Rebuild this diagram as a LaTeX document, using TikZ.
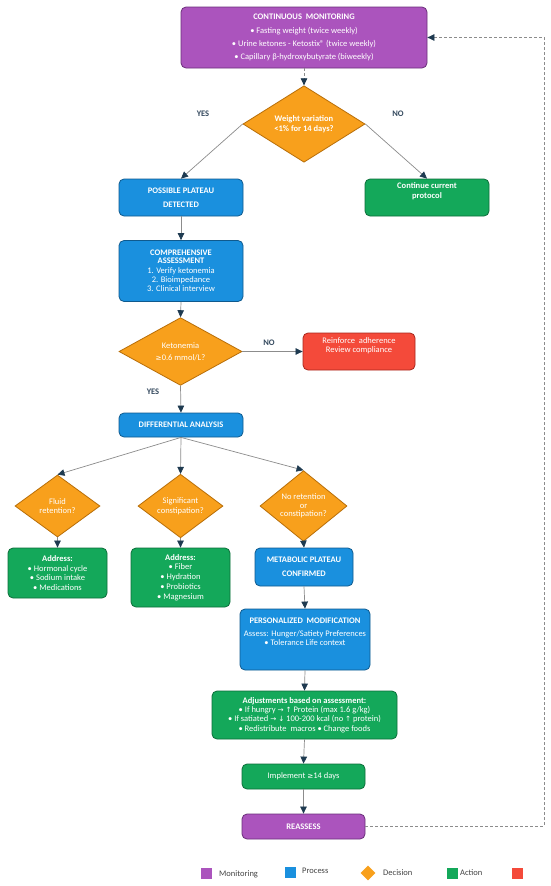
\documentclass[tikz,border=0pt]{standalone}
\usepackage{fontspec}
\setmainfont{Carlito}
\newfontfamily\symf{DejaVu Sans}
\usetikzlibrary{shapes.geometric,arrows.meta}
\definecolor{monC}{HTML}{AB54BD}
\definecolor{monD}{HTML}{6B2F7A}
\definecolor{procC}{HTML}{1A90DE}
\definecolor{procD}{HTML}{0F5A8E}
\definecolor{actC}{HTML}{14A85A}
\definecolor{actD}{HTML}{0C6E3A}
\definecolor{alertC}{HTML}{F44A3A}
\definecolor{alertD}{HTML}{A8261C}
\definecolor{decC}{HTML}{F8A01C}
\definecolor{decD}{HTML}{B86E08}
\definecolor{tipC}{HTML}{1E3A50}
\definecolor{lineC}{HTML}{8C8C8C}
\definecolor{labC}{HTML}{34495E}
\definecolor{legT}{HTML}{444444}
\newcommand{\sy}[1]{{\symf\fontsize{7.2}{9}\selectfont #1}}
\tikzset{
  box/.style={rectangle, rounded corners=5pt, draw, line width=0.8pt, text=white,
    align=center, inner sep=0pt, font=\fontsize{8.5}{9.4}\selectfont},
  mon/.style={box, fill=monC, draw=monD},
  proc/.style={box, fill=procC, draw=procD},
  act/.style={box, fill=actC, draw=actD},
  alert/.style={box, fill=alertC, draw=alertD},
  dec/.style={diamond, fill=decC, draw=decD, line width=0.8pt, text=white, align=center,
    inner sep=0pt, font=\fontsize{8.5}{9.8}\selectfont},
  arr/.style={draw=lineC, line width=0.7pt, -{Triangle[length=7pt,width=6.5pt,color=tipC]}},
  darr/.style={arr, dash pattern=on 3pt off 2pt},
  lab/.style={text=labC, font=\bfseries\fontsize{8.5}{9}\selectfont, inner sep=0pt},
  legsq/.style={rectangle, minimum width=11pt, minimum height=11pt, inner sep=0pt},
  legtxt/.style={text=legT, font=\fontsize{8.5}{9}\selectfont, inner sep=0pt, anchor=west}
}
\begin{document}
\begin{tikzpicture}[x=1pt,y=-1pt]
\useasboundingbox (0,0) rectangle (550,886);
\fill[white] (0,0) rectangle (550,886);

\node[mon, minimum width=246pt, minimum height=61pt, font=\fontsize{8.5}{12.8}\selectfont] (top) at (304,37.5)
  {\textbf{CONTINUOUS\ \ MONITORING}\\[1pt]
   • Fasting weight (twice weekly)\\
   • Urine ketones - Ketostix® (twice weekly)\\
   • Capillary β-hydroxybutyrate (biweekly)};

\node[dec, minimum width=122pt, minimum height=62pt, font=\bfseries\fontsize{8.5}{10}\selectfont] (d1) at (304,124)
  {Weight variation\\<1\% for 14 days?};

\node[lab] (yes1) at (203,114) {YES};
\node[lab] (no1) at (398,114) {NO};

\node[proc, minimum width=124pt, minimum height=37pt, font=\bfseries\fontsize{8.5}{14}\selectfont] (plat) at (181,197.5)
  {POSSIBLE PLATEAU\\DETECTED};
\node[act, minimum width=124pt, minimum height=37pt, font=\bfseries\fontsize{8.5}{10}\selectfont] (cont) at (427,197.5)
  {Continue current\\protocol\\[3pt]};

\node[proc, minimum width=124pt, minimum height=61pt] (comp) at (181,271)
  {\textbf{COMPREHENSIVE}\\[-1.5pt]\textbf{ASSESSMENT}\\
   1. Verify ketonemia\\2. Bioimpedance\\3. Clinical interview};

\node[dec, minimum width=123pt, minimum height=61pt, font=\fontsize{8.5}{12}\selectfont] (d2) at (180.5,351.5)
  {Ketonemia\\\sy{≥}0.6 mmol/L?};
\node[lab] (no2) at (269,343) {NO};
\node[lab] (yes2) at (153,392) {YES};

\node[alert, minimum width=112pt, minimum height=37pt] (red) at (359,351.5)
  {Reinforce\ \ adherence\\Review compliance\\[4pt]};

\node[proc, minimum width=124pt, minimum height=24pt, font=\bfseries\fontsize{8.5}{9}\selectfont] (diff) at (181,425)
  {DIFFERENTIAL ANALYSIS};

\node[dec, minimum width=85pt, minimum height=62pt] (d3) at (57.5,506) {Fluid\\retention?};
\node[dec, minimum width=85pt, minimum height=62pt] (d4) at (180.5,506) {Significant\\constipation?};
\node[dec, minimum width=87pt, minimum height=62pt, font=\fontsize{8.5}{8.5}\selectfont] (d5) at (303.5,506) {No retention\\or\\constipation?};

\node[act, minimum width=99pt, minimum height=50pt] (a1) at (57.5,573)
  {\textbf{Address:}\\• Hormonal cycle\\• Sodium intake\\• Medications};
\node[act, minimum width=99pt, minimum height=59pt, font=\fontsize{8.5}{9.8}\selectfont] (a2) at (180.5,577.5)
  {\textbf{Address:}\\• Fiber\\• Hydration\\• Probiotics\\• Magnesium};
\node[proc, minimum width=98pt, minimum height=38pt, font=\bfseries\fontsize{8.5}{14}\selectfont] (meta) at (304,567)
  {METABOLIC PLATEAU\\CONFIRMED};

\node[proc, minimum width=130pt, minimum height=61pt] (pers) at (305,639.5)
  {\textbf{PERSONALIZED\ \ MODIFICATION}\\[4pt]
   Assess: Hunger/Satiety Preferences\\• Tolerance Life context\\[6pt]};

\node[act, minimum width=185pt, minimum height=48pt] (adj) at (304.5,715)
  {\textbf{Adjustments based on assessment:}\\
   • If hungry \sy{→} \sy{↑} Protein (max 1.6 g/kg)\\
   • If satiated \sy{→} \sy{↓} 100-200 kcal (no \sy{↑} protein)\\
   • Redistribute\ \ macros • Change foods};

\node[act, minimum width=123pt, minimum height=25pt] (impl) at (303.5,776.5)
  {Implement \sy{≥}14 days};
\node[mon, minimum width=123pt, minimum height=25pt, font=\bfseries\fontsize{8.5}{9}\selectfont] (reas) at (303.5,826.5)
  {REASSESS};

% connectors
\draw[darr] (top.south) -- (d1.north);
\draw[arr] (d1.west) -- (plat.north);
\draw[arr] (d1.east) -- (cont.north);
\draw[arr] (plat.south) -- (comp.north);
\draw[arr] (comp.south) -- (d2.north);
\draw[arr] (d2.east) -- (red.west);
\draw[arr] (d2.south) -- (diff.north);
\draw[arr] (diff.south) -- (d3.north);
\draw[arr] (diff.south) -- (d4.north);
\draw[arr] (diff.south) -- (d5.north);
\draw[arr] (d3.south) -- (a1.north);
\draw[arr] (d4.south) -- (a2.north);
\draw[arr] (d5.south) -- (meta.north);
\draw[arr] (meta.south) -- (pers.north);
\draw[arr] (pers.south) -- (adj.north);
\draw[arr] (adj.south) -- (impl.north);
\draw[arr] (impl.south) -- (reas.north);
\coordinate (fb) at (544,826.5);
\draw[darr] (reas.east) -- (fb) |- (top.east);

% legend
\node[legsq, fill=monC] (lg1) at (206.5,873) {};
\node[legtxt] (lt1) at (219,874) {Monitoring};
\node[legsq, fill=procC] (lg2) at (290,872) {};
\node[legtxt] (lt2) at (302,871) {Process};
\node[diamond, fill=decC, minimum width=15pt, minimum height=15pt, inner sep=0pt] (lg3) at (368,873) {};
\node[legtxt] (lt3) at (383,873) {Decision};
\node[legsq, fill=actC] (lg4) at (452.5,873) {};
\node[legtxt] (lt4) at (460,873) {Action};
\node[legsq, fill=alertC] (lg5) at (517.5,873) {};
\end{tikzpicture}
\end{document}
